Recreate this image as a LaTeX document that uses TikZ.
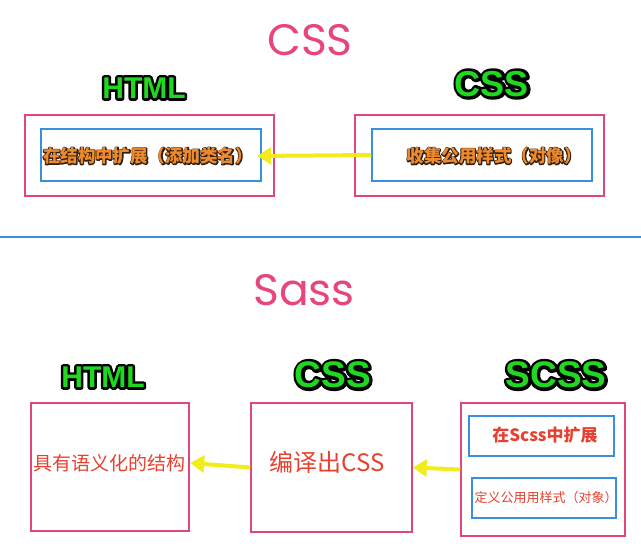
\documentclass[tikz,border=0pt]{standalone}
\usepackage{fontspec}
\setmainfont{Liberation Sans}
\newfontfamily\cjk{Noto Sans CJK SC}
\newfontfamily\roundfont{Poppins}
\usetikzlibrary{arrows.meta}

\definecolor{boxpink}{HTML}{E0457B}
\definecolor{boxblue}{HTML}{3A8EE0}
\definecolor{arrowyellow}{HTML}{F2EC1A}
\definecolor{langgreen}{HTML}{1FD81F}
\definecolor{textorange}{HTML}{EE8A2C}
\definecolor{textred}{HTML}{E8402E}
\definecolor{titlepink}{HTML}{E8457C}

% stroked rim under the filled glyphs: #1 rim width, #2 rim rgb
\newcommand\rimmed[3]{\rlap{\special{pdf:code 1 j #1 w #2 RG 1 Tr}#3\special{pdf:code 0 Tr}}#3}

\begin{document}
\begin{tikzpicture}[
                    x=1pt, y=-1pt,
                    inner sep=0pt,
                    pinkbox/.style={draw=boxpink, line width=1.5pt},
                    bluebox/.style={draw=boxblue, line width=1.5pt},
                    flow/.style={draw=arrowyellow, line width=4pt, -{Triangle[width=17pt,length=14pt]}},
                    title/.style={text=titlepink, font=\roundfont\fontsize{44}{44}\selectfont},
                    lang/.style={text=langgreen, font=\bfseries\fontsize{#1}{#1}\selectfont},
                    orange/.style={text=textorange, font=\cjk\bfseries\fontsize{#1}{#1}\selectfont},
                    red/.style={text=textred, font=\cjk\fontsize{#1}{#1}\selectfont}
                ]
                \useasboundingbox (0,0) rectangle (641,551);

                % CSS part
                \node[title] (csstitle) at (310,40) {CSS};
                \node[lang=30] (htmlA) at (144,88) {\rimmed{5}{0 0 0}{HTML}};
                \node[lang=36] (cssA) at (492,84) {\rimmed{6}{0 0 0}{CSS}};

                \node[pinkbox, minimum width=249pt, minimum height=81pt] (htmlbox) at (149.5,155.5) {};
                \node[bluebox, minimum width=220pt, minimum height=52pt] (htmlin) at (151,155) {};
                \node[orange=17.5] (extend) at (148,156) {\rimmed{2}{0.2 0.12 0.05}{在结构中扩展（添加类名）}};

                \node[pinkbox, minimum width=249pt, minimum height=81pt] (cssbox) at (479.5,155.5) {};
                \node[bluebox, minimum width=220pt, minimum height=52pt] (cssin) at (482,155) {};
                \node[orange=17.5] (collect) at (494,156) {\rimmed{2}{0.2 0.12 0.05}{收集公用样式（对像）}};

                \path[flow] (cssin.west) -- ([xshift=4pt]extend.east);

                % divider
                \coordinate (divL) at (0,237);
                \coordinate (divR) at (641,237);
                \draw[boxblue, line width=2pt] (divL) -- (divR);

                % Sass part
                \node[title] (sasstitle) at (304,290) {Sass};
                \node[lang=30] (htmlB) at (103,377) {\rimmed{5}{0 0 0}{HTML}};
                \node[lang=37] (cssB) at (333,375) {\rimmed{6}{0 0 0}{CSS}};
                \node[lang=37] (scss) at (556,375) {\rimmed{6}{0 0 0}{SCSS}};

                \node[pinkbox, minimum width=158pt, minimum height=128pt] (htmlC) at (110,467) {};
                \node[pinkbox, minimum width=161pt, minimum height=129pt] (cssC) at (331.5,467.5) {};
                \node[pinkbox, minimum width=164pt, minimum height=133pt] (scssC) at (543,469.5) {};
                \node[bluebox, minimum width=145pt, minimum height=40pt] (scssA) at (541.5,436) {};
                \node[bluebox, minimum width=144pt, minimum height=40pt] (scssD) at (544,498) {};

                \node[red=19] (semantic) at (110,463) {具有语义化的结构};
                \node[red=24] (compile) at (327,462) {编译出CSS};
                \node[red=17, font=\cjk\bfseries\fontsize{17}{17}\selectfont] (inscss) at (545,435) {在Scss中扩展};
                \node[red=13] (define) at (546,498) {定义公用用样式（对象）};

                \path[flow] (cssC.west) -- ([xshift=4pt]semantic.east);
                \path[flow] (scssC.west) -- (cssC.east);
            \end{tikzpicture}
\end{document}
